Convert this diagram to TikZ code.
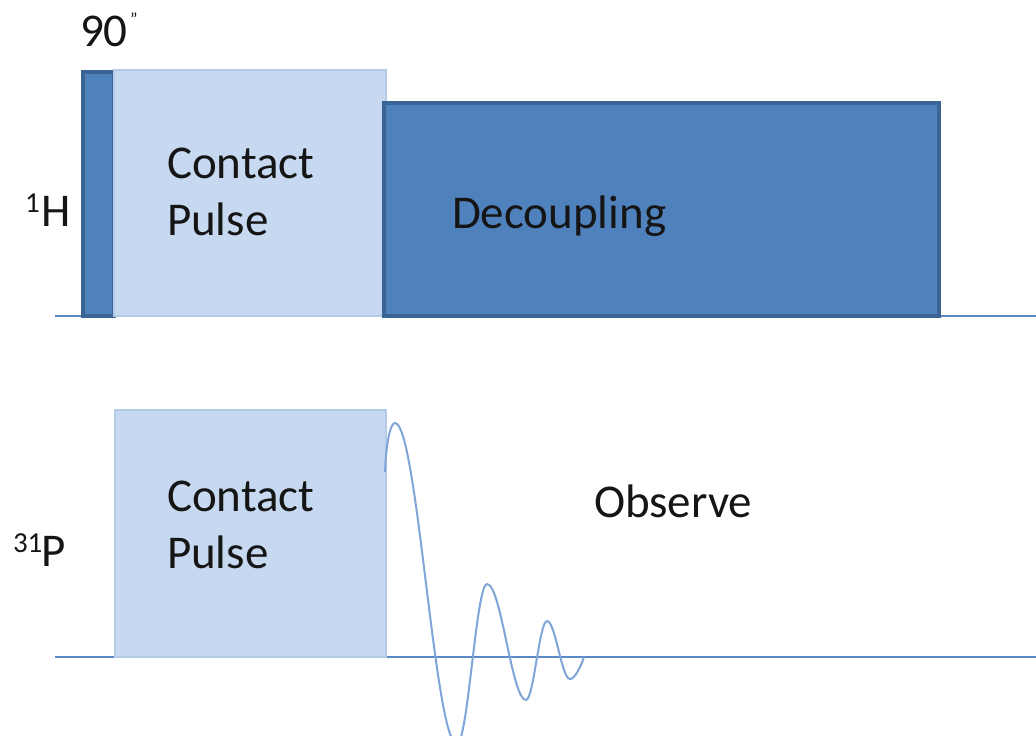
\documentclass[tikz,border=0pt]{standalone}
\usepackage{fontspec}
\setmainfont{Carlito}
\definecolor{darkfill}{HTML}{4F81BD}
\definecolor{darkline}{HTML}{3A6496}
\definecolor{lightfill}{HTML}{C6D9F1}
\definecolor{lightline}{HTML}{B4CBE8}
\definecolor{axisblue}{HTML}{5A89C4}
\definecolor{fidblue}{HTML}{7EA5D6}
\definecolor{txt}{HTML}{151515}
\begin{document}
\begin{tikzpicture}[x=1pt,y=-1pt,
  darkpulse/.style={draw=darkline,fill=darkfill,line width=3.5pt,anchor=south west,inner sep=0pt,outer sep=0pt},
  lightpulse/.style={draw=lightline,fill=lightfill,line width=2.5pt,anchor=south west,inner sep=0pt,outer sep=0pt},
  axisline/.style={draw=axisblue,line width=2.5pt},
  fid/.style={draw=fidblue,line width=2pt},
  lbl/.style={anchor=base west,inner sep=0pt,outer sep=0pt,text=txt,font=\fontsize{47}{57}\selectfont},
  sup/.style={anchor=base west,inner sep=0pt,outer sep=0pt,text=txt,font=\fontsize{29}{30}\selectfont}]
\useasboundingbox (0,0) rectangle (1036,736);
% baselines
\coordinate (hstart) at (55,316);
\coordinate (hend) at (1036,316);
\coordinate (pstart) at (55,657);
\coordinate (pend) at (1036,657);
\draw[axisline] (hstart) -- (hend);
\draw[axisline] (pstart) -- (pend);
% 1H channel
\node[darkpulse,minimum width=31pt,minimum height=244pt] (ninety) at (83,316) {};
\node[lightpulse,minimum width=272pt,minimum height=246pt] (hcontact) at (114,316) {};
\node[darkpulse,minimum width=555pt,minimum height=213pt] (decoupling) at (384,316) {};
% 31P channel
\node[lightpulse,minimum width=271pt,minimum height=247pt] (pcontact) at (115,657) {};
% labels
\node[lbl] (ninetylbl) at (80,46) {90};
\node[anchor=base west,inner sep=0pt,text=txt,font=\fontsize{18}{18}\selectfont] (deg) at (130,25) {\char"22};
\node[sup] (hsup) at (25,212) {1};
\node[lbl] (hlbl) at (41,226) {H};
\node[sup] (psup) at (13,552) {31};
\node[lbl] (plbl) at (41,566) {P};
\node[lbl] (hcp1) at (167,178) {Contact};
\node[lbl] (hcp2) at (167,235) {Pulse};
\node[lbl] (pcp1) at (167,511) {Contact};
\node[lbl] (pcp2) at (167,568) {Pulse};
\node[lbl] (declbl) at (452,228) {Decoupling};
\node[lbl] (obslbl) at (594,517) {Observe};
% FID
\coordinate (fidstart) at (385,472);
\coordinate (fidend) at (584,657);
\draw[fid] (fidstart) .. controls (386,445) and (390,423) .. (395,423)
  .. controls (417.3,423) and (434.7,744) .. (457,744)
  .. controls (467.9,744) and (476.1,584) .. (487,584)
  .. controls (501.2,584) and (511.8,700) .. (526,700)
  .. controls (533.6,700) and (539.4,621) .. (547,621)
  .. controls (555.4,621) and (561.6,679) .. (570,679)
  .. controls (575,679) and (581,666) .. (fidend);
\end{tikzpicture}
\end{document}
